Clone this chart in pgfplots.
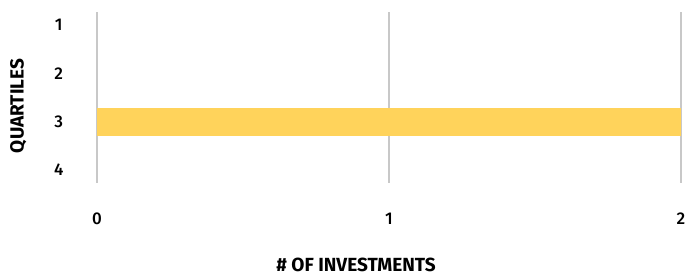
\documentclass[border=0pt]{standalone}
\usepackage{fontspec}
\setmainfont{Fira Sans}
\newfontfamily\medfont{Fira Sans Medium}
\usepackage{pgfplots}
\pgfplotsset{compat=1.18}
\definecolor{baryellow}{HTML}{FFD35B}
\definecolor{gridgray}{HTML}{C8C8C8}
\begin{document}
\begin{tikzpicture}[x=1pt,y=1pt]
\path[use as bounding box] (-97,-93) rectangle (591,183);
\begin{axis}[
  at={(0,0)}, anchor=south west,
  scale only axis, width=584pt, height=171pt,
  xbar, bar width=28pt,
  xmin=0, xmax=2, xtick={0,1,2},
  ymin=0.73, ymax=4.27, y dir=reverse,
  ytick={1,2,3,4},
  axis line style={draw=none},
  tick style={draw=none},
  xmajorgrids, grid style={gridgray, line width=1.3pt},
  tick label style={font=\fontsize{17}{19}\selectfont\medfont},
  /pgf/number format/assume math mode=true,
  xticklabel style={anchor=center, yshift=-36pt},
  yticklabel style={anchor=center, xshift=-34pt},
  xlabel={\# OF INVESTMENTS},
  ylabel={QUARTILES},
  label style={font=\fontsize{19}{21}\selectfont\bfseries},
  xlabel style={at={(axis description cs:0.4435,-0.48)}, anchor=center},
  ylabel style={at={(axis description cs:-0.135,0.45)}, anchor=center},
]
\addplot[fill=baryellow, draw=none] coordinates {(2,3)};
\end{axis}
\end{tikzpicture}
\end{document}
